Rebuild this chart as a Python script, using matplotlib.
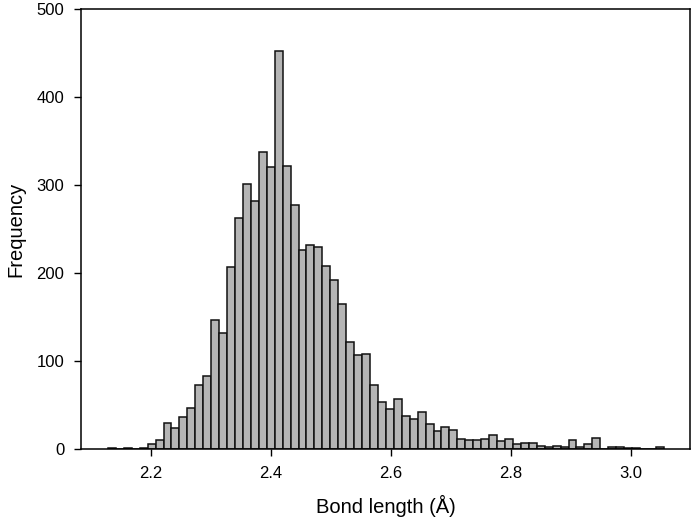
import matplotlib
matplotlib.use("Agg")
import matplotlib.pyplot as plt
import numpy as np

plt.rcParams['font.family'] = ['Liberation Sans', 'DejaVu Sans']

# histogram of bond lengths, 70 bins between min and max
bin_lo = 2.128
bin_hi = 3.0555
counts = [1, 0, 1, 0, 1, 6, 10, 30, 24, 36,
          47, 73, 83, 147, 132, 207, 262, 301, 282, 337,
          320, 452, 321, 277, 226, 232, 230, 208, 192, 165,
          122, 107, 108, 73, 54, 46, 57, 38, 34, 42,
          28, 21, 25, 22, 12, 10, 10, 12, 16, 9,
          12, 6, 7, 7, 4, 2, 3, 2, 10, 2,
          6, 13, 0, 2, 2, 1, 1, 0, 0, 2]
edges = np.linspace(bin_lo, bin_hi, len(counts) + 1)

xticks = [2.2, 2.4, 2.6, 2.8, 3.0]
yticks = [0, 100, 200, 300, 400, 500]

fig = plt.figure(figsize=(6.92, 5.24), dpi=100)
ax = fig.add_axes([0.117, 0.143, 0.880, 0.840])

ax.bar(edges[:-1], counts, width=np.diff(edges), align='edge',
       color='#b5b5b5', edgecolor='#111111', linewidth=1.1)

ax.set_xlim(2.083, 3.099)
ax.set_ylim(0, 500)
ax.set_xticks(xticks)
ax.set_xticklabels(['%.1f' % t for t in xticks])
ax.set_yticks(yticks)
ax.tick_params(direction='out', length=5, width=1, labelsize=12, pad=7)
for s in ax.spines.values():
    s.set_linewidth(1.1)

ax.set_xlabel('Bond length (Å)', fontsize=14.5, labelpad=10)
ax.set_ylabel('Frequency', fontsize=14.5, labelpad=8)

fig.savefig('out.png', dpi=100)
